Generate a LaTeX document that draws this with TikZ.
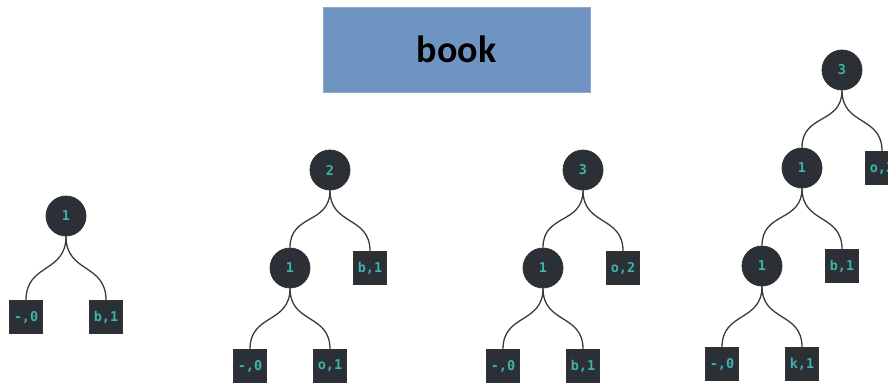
\documentclass[tikz,border=0pt]{standalone}
\usepackage{fontspec}
\newfontfamily\headfont{Carlito}
\newfontfamily\keyfont{DejaVu Sans Mono}
\definecolor{nodedark}{HTML}{2B2F36}
\definecolor{keyteal}{HTML}{3DB3AC}
\definecolor{headblue}{HTML}{7094C1}
\definecolor{linkgray}{HTML}{3A3A3A}
\begin{document}
\begin{tikzpicture}[x=1pt, y=1pt,
  inner/.style={circle, fill=nodedark, draw=black!80, line width=0.8pt, minimum size=40pt, inner sep=0pt,
    text=keyteal, font=\keyfont\bfseries\fontsize{13.5}{15}\selectfont},
  leaf/.style={rectangle, fill=nodedark, draw=black!80, line width=0.8pt, minimum size=33pt, inner sep=0pt,
    text=keyteal, font=\keyfont\bfseries\fontsize{13.5}{15}\selectfont},
  headbox/.style={rectangle, fill=headblue, draw=headblue!80!white, minimum width=267pt, minimum height=85pt,
    font=\headfont\bfseries\fontsize{38}{42}\selectfont},
  level distance=98pt, sibling distance=80pt,
  edge from parent/.style={draw=linkgray, line width=1.3pt},
  edge from parent path={(\tikzparentnode.south) to[out=-90, in=90, looseness=1.25] (\tikzchildnode.north)}]
\useasboundingbox (0,0) rectangle (888,-383);

\node [headbox] (word) at (456.5,-49.5) {book};

\path [level distance=101pt] (66,-216) node [inner] (s1) {1}
  child { node [leaf] (s1a) {-,0} }
  child { node [leaf] (s1b) {b,1} };

\node [inner] (s2) at (330,-170) {2}
  child {
    node [inner] (s2a) {1}
    child { node [leaf] (s2aa) {-,0} }
    child { node [leaf] (s2ab) {o,1} }
  }
  child { node [leaf] (s2b) {b,1} };

\node [inner] (s3) at (583,-170) {3}
  child {
    node [inner] (s3a) {1}
    child { node [leaf] (s3aa) {-,0} }
    child { node [leaf] (s3ab) {b,1} }
  }
  child { node [leaf] (s3b) {o,2} };

\node [inner] (s4) at (842,-70) {3}
  child {
    node [inner] (s4a) {1}
    child {
      node [inner] (s4aa) {1}
      child { node [leaf] (s4aaa) {-,0} }
      child { node [leaf] (s4aab) {k,1} }
    }
    child { node [leaf] (s4ab) {b,1} }
  }
  child { node [leaf] (s4b) {o,2} };
\end{tikzpicture}
\end{document}
